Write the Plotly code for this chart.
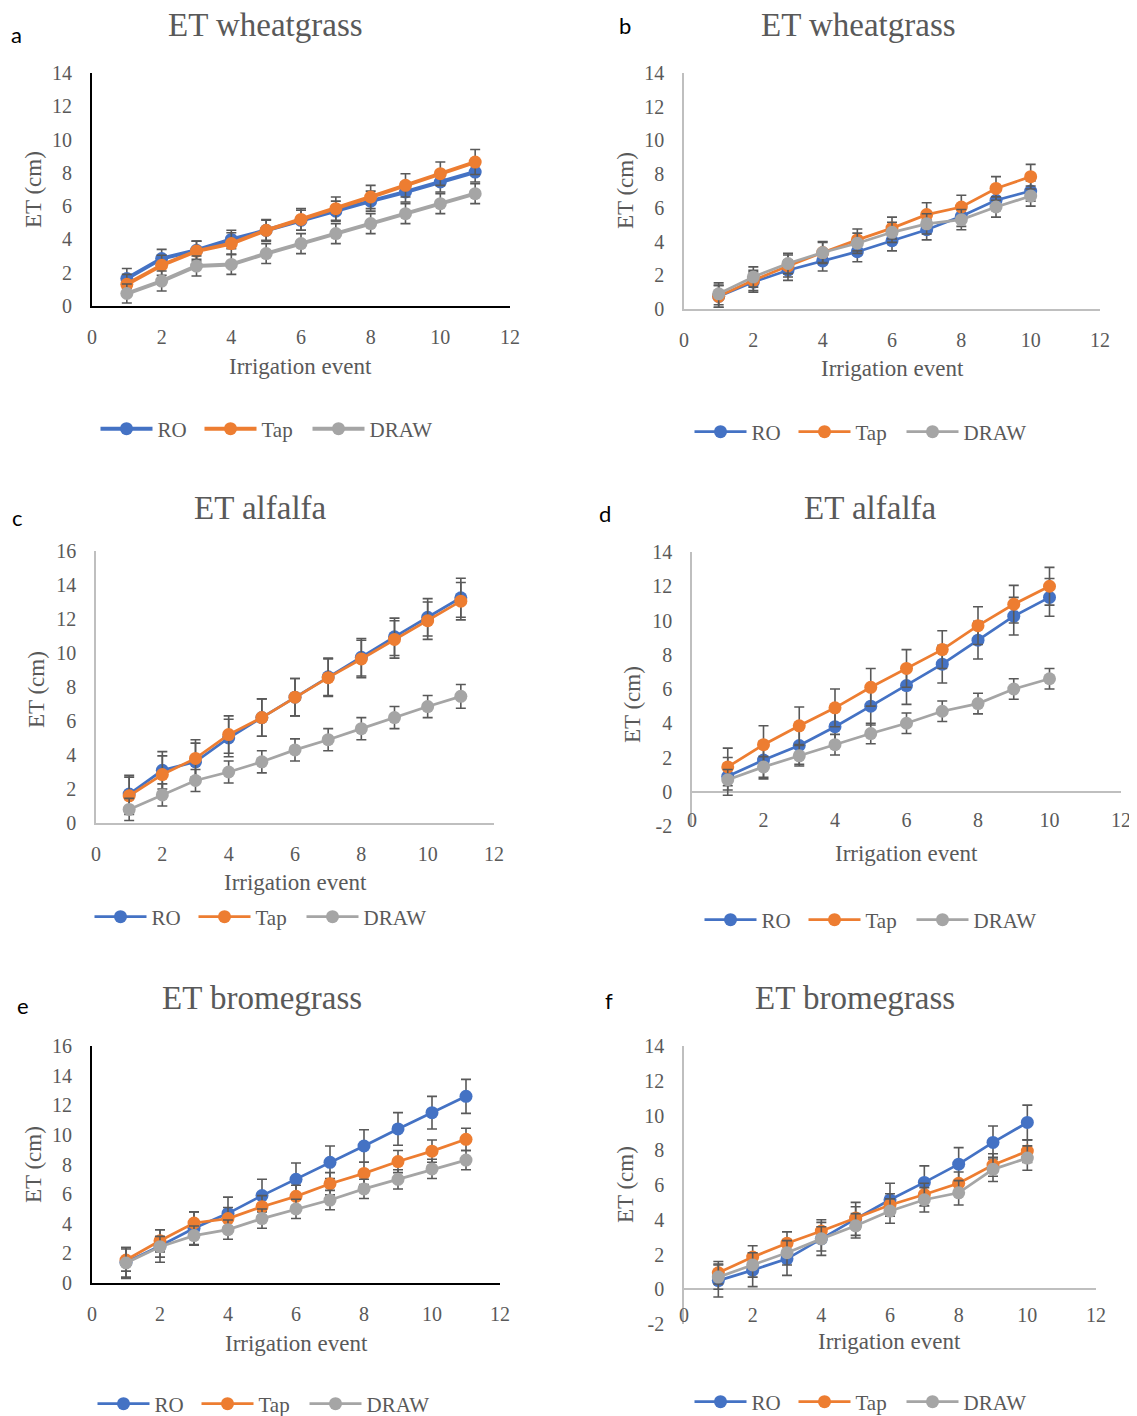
import plotly.graph_objects as go

# page is rendered with an 8px body margin, so the figure is offset by 8px
OFF = 8
W, H = 1137 - OFF, 1416 - OFF

# ---------------- data ----------------
events_11 = [1, 2, 3, 4, 5, 6, 7, 8, 9, 10, 11]
events_10 = [1, 2, 3, 4, 5, 6, 7, 8, 9, 10]

x_tick_vals = [0, 2, 4, 6, 8, 10, 12]
x_tick_text = ["0", "2", "4", "6", "8", "10", "12"]
y_tick_vals_14 = [0, 2, 4, 6, 8, 10, 12, 14]
y_tick_text_14 = ["0", "2", "4", "6", "8", "10", "12", "14"]
y_tick_vals_16 = [0, 2, 4, 6, 8, 10, 12, 14, 16]
y_tick_text_16 = ["0", "2", "4", "6", "8", "10", "12", "14", "16"]
y_tick_vals_neg = [-2, 0, 2, 4, 6, 8, 10, 12, 14]
y_tick_text_neg = ["-2", "0", "2", "4", "6", "8", "10", "12", "14"]

panel_titles = ["ET wheatgrass", "ET wheatgrass", "ET alfalfa", "ET alfalfa",
                "ET bromegrass", "ET bromegrass"]
panel_letters = ["a", "b", "c", "d", "e", "f"]
series_names = ["RO", "Tap", "DRAW"]
series_colors = ["#4472C4", "#ED7D31", "#A5A5A5"]
x_title = "Irrigation event"
y_title = "ET (cm)"

# panel a - wheatgrass
a_ro = [1.65, 2.85, 3.35, 4.0, 4.55, 5.15, 5.7, 6.3, 6.85, 7.45, 8.05]
a_tap = [1.3, 2.45, 3.3, 3.75, 4.55, 5.2, 5.85, 6.55, 7.25, 7.95, 8.65]
a_draw = [0.75, 1.5, 2.4, 2.5, 3.15, 3.75, 4.35, 4.95, 5.55, 6.15, 6.75]
a_ro_err = [0.6, 0.55, 0.55, 0.55, 0.6, 0.6, 0.6, 0.6, 0.6, 0.6, 0.6]
a_tap_err = [0.6, 0.6, 0.6, 0.65, 0.65, 0.65, 0.7, 0.7, 0.7, 0.7, 0.75]
a_draw_err = [0.57, 0.6, 0.6, 0.6, 0.6, 0.6, 0.6, 0.6, 0.6, 0.6, 0.6]

# panel b - wheatgrass
b_ro = [0.75, 1.6, 2.3, 2.85, 3.4, 4.05, 4.7, 5.5, 6.45, 7.0]
b_tap = [0.75, 1.7, 2.55, 3.35, 4.1, 4.8, 5.6, 6.05, 7.15, 7.85]
b_draw = [0.9, 1.9, 2.7, 3.35, 3.9, 4.55, 5.05, 5.3, 6.05, 6.7]
b_ro_err = [0.65, 0.6, 0.6, 0.6, 0.6, 0.6, 0.6, 0.6, 0.6, 0.6]
b_tap_err = [0.65, 0.6, 0.65, 0.65, 0.65, 0.65, 0.7, 0.7, 0.7, 0.73]
b_draw_err = [0.65, 0.6, 0.6, 0.6, 0.6, 0.6, 0.6, 0.6, 0.6, 0.6]

# panel c - alfalfa
c_ro = [1.7, 3.1, 3.6, 5.0, 6.2, 7.4, 8.6, 9.75, 10.95, 12.1, 13.25]
c_tap = [1.6, 2.85, 3.8, 5.2, 6.2, 7.4, 8.55, 9.65, 10.8, 11.9, 13.05]
c_draw = [0.8, 1.65, 2.5, 3.0, 3.6, 4.3, 4.9, 5.55, 6.2, 6.85, 7.45]
c_ro_err = [1.1, 1.1, 1.1, 1.1, 1.1, 1.1, 1.1, 1.1, 1.1, 1.1, 1.15]
c_tap_err = [1.1, 1.1, 1.1, 1.1, 1.1, 1.1, 1.1, 1.1, 1.1, 1.1, 1.1]
c_draw_err = [0.65, 0.65, 0.65, 0.65, 0.65, 0.65, 0.65, 0.65, 0.65, 0.65, 0.7]

# panel d - alfalfa
d_ro = [0.9, 1.85, 2.7, 3.8, 5.0, 6.2, 7.45, 8.85, 10.25, 11.35]
d_tap = [1.45, 2.75, 3.85, 4.9, 6.1, 7.2, 8.3, 9.7, 10.95, 12.0]
d_draw = [0.7, 1.45, 2.1, 2.75, 3.4, 4.0, 4.7, 5.15, 6.0, 6.6]
d_ro_err = [1.1, 1.1, 1.1, 1.1, 1.1, 1.1, 1.1, 1.1, 1.1, 1.1]
d_tap_err = [1.1, 1.1, 1.1, 1.1, 1.1, 1.1, 1.1, 1.1, 1.1, 1.1]
d_draw_err = [0.6, 0.6, 0.6, 0.6, 0.6, 0.6, 0.6, 0.6, 0.6, 0.6]

# panel e - bromegrass
e_ro = [1.4, 2.5, 3.7, 4.7, 5.9, 7.0, 8.15, 9.25, 10.4, 11.5, 12.6]
e_tap = [1.55, 2.85, 4.05, 4.35, 5.15, 5.85, 6.7, 7.4, 8.2, 8.9, 9.7]
e_draw = [1.35, 2.45, 3.2, 3.6, 4.35, 5.0, 5.6, 6.35, 7.0, 7.7, 8.3]
e_ro_err = [1.0, 1.1, 1.1, 1.1, 1.1, 1.1, 1.1, 1.1, 1.1, 1.1, 1.15]
e_tap_err = [0.75, 0.75, 0.75, 0.75, 0.75, 0.75, 0.75, 0.75, 0.75, 0.75, 0.75]
e_draw_err = [1.05, 0.7, 0.65, 0.65, 0.65, 0.65, 0.65, 0.65, 0.65, 0.65, 0.65]

# panel f - bromegrass
f_ro = [0.5, 1.1, 1.75, 2.9, 4.05, 5.15, 6.15, 7.2, 8.45, 9.6]
f_tap = [0.95, 1.85, 2.65, 3.35, 4.1, 4.85, 5.45, 6.1, 7.15, 7.95]
f_draw = [0.7, 1.4, 2.1, 2.9, 3.65, 4.5, 5.15, 5.55, 6.9, 7.55]
f_ro_err = [0.95, 0.95, 0.95, 0.95, 0.95, 0.95, 0.95, 0.95, 0.95, 1.0]
f_tap_err = [0.65, 0.65, 0.65, 0.65, 0.65, 0.65, 0.65, 0.65, 0.65, 0.65]
f_draw_err = [0.7, 0.7, 0.7, 0.7, 0.7, 0.7, 0.7, 0.7, 0.7, 0.7]

panel_data = [
    (events_11, [a_ro, a_tap, a_draw], [a_ro_err, a_tap_err, a_draw_err]),
    (events_10, [b_ro, b_tap, b_draw], [b_ro_err, b_tap_err, b_draw_err]),
    (events_11, [c_ro, c_tap, c_draw], [c_ro_err, c_tap_err, c_draw_err]),
    (events_10, [d_ro, d_tap, d_draw], [d_ro_err, d_tap_err, d_draw_err]),
    (events_11, [e_ro, e_tap, e_draw], [e_ro_err, e_tap_err, e_draw_err]),
    (events_10, [f_ro, f_tap, f_draw], [f_ro_err, f_tap_err, f_draw_err]),
]

# ---------------- layout geometry (page pixels) ----------------
panels = [
    dict(box=(92, 510, 73, 306), yr=(0, 14), yt=(y_tick_vals_14, y_tick_text_14),
         axc="#000000", axw=2, lw=4, title=(265, 25), letter=(16, 35),
         legend=(268, 429), xt=(300, 366), ytp=(33, 190), neg=False),
    dict(box=(684, 1100, 73, 309), yr=(0, 14), yt=(y_tick_vals_14, y_tick_text_14),
         axc="#BFBFBF", axw=1.5, lw=2.75, title=(858, 25), letter=(625, 25),
         legend=(862, 432), xt=(892, 369), ytp=(625, 191), neg=False),
    dict(box=(96, 494, 551, 823), yr=(0, 16), yt=(y_tick_vals_16, y_tick_text_16),
         axc="#BFBFBF", axw=1.5, lw=2.75, title=(260, 508), letter=(17, 517),
         legend=(262, 917), xt=(295, 882), ytp=(36, 690), neg=False),
    dict(box=(692, 1121, 552, 826), yr=(-2, 14), yt=(y_tick_vals_neg, y_tick_text_neg),
         axc="#BFBFBF", axw=1.5, lw=2.75, title=(870, 508), letter=(605, 513),
         legend=(872, 920), xt=(906, 853), ytp=(632, 705), neg=True, xlab=819),
    dict(box=(92, 500, 1046, 1283), yr=(0, 16), yt=(y_tick_vals_16, y_tick_text_16),
         axc="#000000", axw=2, lw=2.75, title=(262, 998), letter=(23, 1005),
         legend=(265, 1404), xt=(296, 1343), ytp=(33, 1165), neg=False),
    dict(box=(684, 1096, 1046, 1324), yr=(-2, 14), yt=(y_tick_vals_neg, y_tick_text_neg),
         axc="#BFBFBF", axw=1.5, lw=2.75, title=(855, 998), letter=(609, 1000),
         legend=(862, 1402), xt=(889, 1341), ytp=(625, 1185), neg=True, xlab=1314),
]
legend_entry_widths = [37, 41, 66]

def px(x):
    return (x - OFF) / W

def py(y):
    return 1 - (y - OFF) / H

TXT = "#595959"
SERIF = "Liberation Serif, Times New Roman, serif"

fig = go.Figure()
layout = dict(width=W, height=H,
              margin=dict(l=0, r=0, t=0, b=0, autoexpand=False),
              paper_bgcolor="white", plot_bgcolor="white", showlegend=True)
annotations = []

for i, (p, (xs, ys_list, errs_list)) in enumerate(zip(panels, panel_data)):
    n = "" if i == 0 else str(i + 1)
    leg = "legend" if i == 0 else f"legend{i + 1}"
    x0, x1, yt, yb = p["box"]
    for name, color, ys, errs, lw in zip(series_names, series_colors, ys_list,
                                         errs_list, legend_entry_widths):
        fig.add_trace(go.Scatter(
            x=xs, y=ys, name=name, mode="lines+markers",
            line=dict(color=color, width=p["lw"]),
            marker=dict(color=color, size=13),
            error_y=dict(type="data", array=errs, visible=True,
                         color="#595959", thickness=1.6, width=5),
            xaxis="x" + n, yaxis="y" + n, legend=leg, legendwidth=lw))

    xa = dict(domain=[px(x0), px(x1)], range=[0, 12], tickmode="array",
              tickvals=x_tick_vals, ticktext=x_tick_text, showgrid=False,
              zeroline=False, ticks="", fixedrange=True, automargin=False,
              tickfont=dict(family=SERIF, size=20, color=TXT))
    ya = dict(domain=[py(yb), py(yt)], range=list(p["yr"]), tickmode="array",
              tickvals=p["yt"][0], ticktext=p["yt"][1], showgrid=False,
              showline=True, linecolor=p["axc"], linewidth=p["axw"], ticks="",
              ticklabelstandoff=14, fixedrange=True, automargin=False,
              tickfont=dict(family=SERIF, size=20, color=TXT))
    if p["neg"]:
        xa.update(anchor="free", position=py(p["xlab"] - 13), showline=False)
        ya.update(zeroline=True, zerolinecolor=p["axc"], zerolinewidth=p["axw"])
    else:
        xa.update(anchor="y" + n, showline=True, linecolor=p["axc"],
                  linewidth=p["axw"], ticklabelstandoff=12)
        ya.update(zeroline=False)
    ya["anchor"] = "x" + n
    layout["xaxis" + n] = xa
    layout["yaxis" + n] = ya

    layout[leg] = dict(orientation="h", x=px(p["legend"][0]), xanchor="center",
                       y=py(p["legend"][1]), yanchor="middle",
                       font=dict(family=SERIF, size=21, color=TXT),
                       bgcolor="rgba(0,0,0,0)", itemclick=False,
                       itemwidth=52)

    annotations.append(dict(text=panel_titles[i], x=px(p["title"][0]), y=py(p["title"][1]),
                            xref="paper", yref="paper", showarrow=False,
                            xanchor="center", yanchor="middle",
                            font=dict(family=SERIF, size=33, color=TXT)))
    annotations.append(dict(text=panel_letters[i], x=px(p["letter"][0]), y=py(p["letter"][1]),
                            xref="paper", yref="paper", showarrow=False,
                            xanchor="center", yanchor="middle",
                            font=dict(family="Lato, Carlito, sans-serif", size=22, color="#000000")))
    annotations.append(dict(text=x_title, x=px(p["xt"][0]), y=py(p["xt"][1]),
                            xref="paper", yref="paper", showarrow=False,
                            xanchor="center", yanchor="middle",
                            font=dict(family=SERIF, size=23, color=TXT)))
    annotations.append(dict(text=y_title, x=px(p["ytp"][0]), y=py(p["ytp"][1]),
                            xref="paper", yref="paper", showarrow=False, textangle=-90,
                            xanchor="center", yanchor="middle",
                            font=dict(family=SERIF, size=23, color=TXT)))

layout["annotations"] = annotations
fig.update_layout(**layout)
fig.write_html("out.html")
